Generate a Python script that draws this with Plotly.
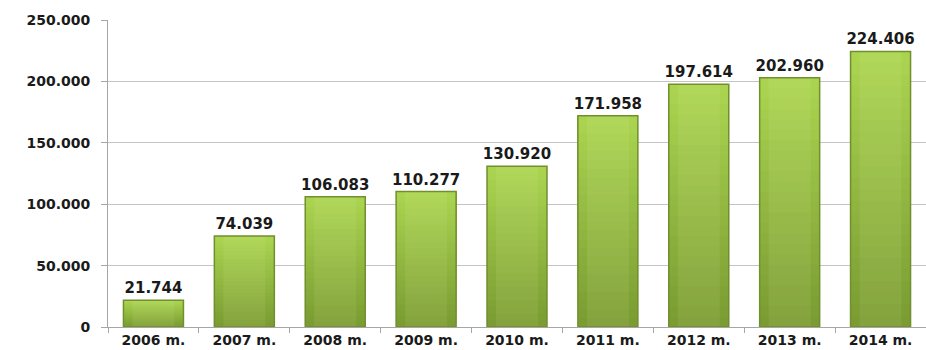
import plotly.graph_objects as go

# Yearly totals
years = ["2006 m.", "2007 m.", "2008 m.", "2009 m.", "2010 m.",
         "2011 m.", "2012 m.", "2013 m.", "2014 m."]
values = [21744, 74039, 106083, 110277, 130920, 171958, 197614, 202960, 224406]
y_ticks = [0, 50000, 100000, 150000, 200000, 250000]

FONT = "DejaVu Sans"
BAR_W = 0.66

# Shading: each bar gets lighter toward the top. Every layer starts a bit
# higher up the bar and runs to its full value, so later layers cover earlier ones.
top_rgb = (170, 212, 80)
bot_rgb = (122, 156, 50)
n_layers = 24

fig = go.Figure()
for k in range(n_layers):
    t = k / (n_layers - 1)
    r = round(bot_rgb[0] + (top_rgb[0] - bot_rgb[0]) * t)
    g = round(bot_rgb[1] + (top_rgb[1] - bot_rgb[1]) * t)
    b = round(bot_rgb[2] + (top_rgb[2] - bot_rgb[2]) * t)
    fig.add_trace(go.Bar(
        x=years,
        y=[v * (n_layers - k) / n_layers for v in values],
        base=[v * k / n_layers for v in values],
        width=BAR_W,
        marker=dict(color=f"rgb({r},{g},{b})", line=dict(width=0)),
        hoverinfo="skip",
        showlegend=False,
    ))

# Slight highlight down the middle of each bar
fig.add_trace(go.Bar(
    x=years,
    y=values,
    width=BAR_W * 0.7,
    marker=dict(color="rgba(255,255,210,0.08)", line=dict(width=0)),
    hoverinfo="skip",
    showlegend=False,
))

# Outline + value labels
fig.add_trace(go.Bar(
    x=years,
    y=values,
    width=BAR_W,
    marker=dict(color="rgba(0,0,0,0)", line=dict(color="#728f2e", width=1.5)),
    texttemplate="%{y:,}",
    textposition="outside",
    constraintext="none",
    cliponaxis=False,
    textfont=dict(family=FONT, size=15, color="#1a1a1a", weight="bold"),
    showlegend=False,
))

fig.update_layout(
    width=926,
    height=350,
    margin=dict(l=108, r=0, t=20, b=23),
    barmode="overlay",
    separators=",.",
    plot_bgcolor="white",
    paper_bgcolor="white",
    font=dict(family=FONT, color="#1a1a1a"),
    xaxis=dict(
        type="category",
        showgrid=False,
        showline=True,
        linecolor="#a6a6a6",
        linewidth=1,
        ticks="outside",
        tickson="boundaries",
        ticklen=5,
        tickcolor="#a6a6a6",
        tickfont=dict(family=FONT, size=14, color="#1a1a1a", weight="bold"),
        range=[-0.5, 8.5],
    ),
    yaxis=dict(
        range=[0, 250000],
        tickvals=y_ticks,
        tickformat=",d",
        showgrid=True,
        gridcolor="#c4c4c4",
        gridwidth=1,
        showline=True,
        linecolor="#a6a6a6",
        linewidth=1,
        ticks="outside",
        ticklen=6,
        tickcolor="#a6a6a6",
        ticklabelstandoff=8,
        tickfont=dict(family=FONT, size=14, color="#1a1a1a", weight="bold"),
        zeroline=False,
    ),
)

fig.write_html("out.html")
